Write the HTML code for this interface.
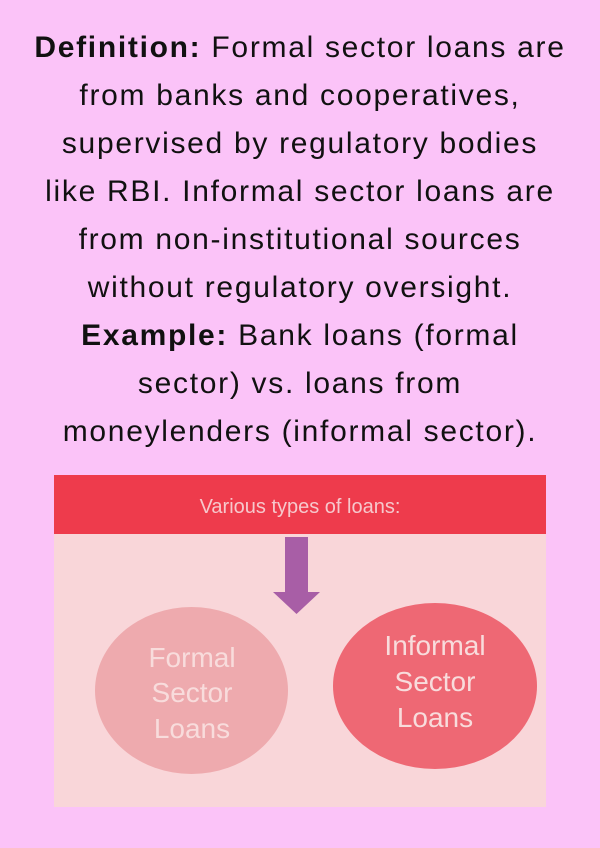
<!DOCTYPE html>
<html><head><style>
html,body{margin:0;padding:0}
body{width:600px;height:848px;background:#fbc3f8;position:relative;overflow:hidden;font-family:"Liberation Sans",sans-serif}
#t{position:absolute;left:0;top:24px;width:600px;text-align:center;font-size:30px;letter-spacing:1.7px;line-height:48px;color:#111}
#t div{white-space:nowrap}
</style></head><body>
<div id="t">
<div><b>Definition:</b> Formal sector loans are</div>
<div>from banks and cooperatives,</div>
<div>supervised by regulatory bodies</div>
<div>like RBI. Informal sector loans are</div>
<div>from non-institutional sources</div>
<div>without regulatory oversight.</div>
<div><b>Example:</b> Bank loans (formal</div>
<div>sector) vs. loans from</div>
<div>moneylenders (informal sector).</div>
</div>
<svg style="position:absolute;left:0;top:0" width="600" height="848">
<rect x="54" y="475" width="492" height="332" fill="#f9d6d9"/>
<rect x="54" y="475" width="492" height="59" fill="#ee3b4c"/>
<text x="300" y="513" text-anchor="middle" font-family="Liberation Sans" font-size="20" fill="#f6c8cc">Various types of loans:</text>
<rect x="285" y="537" width="23" height="56" fill="#a85ea6"/>
<polygon points="273,592 320,592 296.5,614" fill="#a85ea6"/>
<ellipse cx="191.5" cy="690.5" rx="96.5" ry="83.5" fill="#eeaaae"/>
<ellipse cx="435" cy="686" rx="102" ry="83" fill="#ee6874"/>
<g font-family="Liberation Sans" font-size="28" fill="#f8dcdc" text-anchor="middle">
<text x="192" y="667">Formal</text><text x="192" y="702">Sector</text><text x="192" y="738">Loans</text>
<text x="435" y="655">Informal</text><text x="435" y="691">Sector</text><text x="435" y="727">Loans</text>
</g>
</svg>
</body></html>
